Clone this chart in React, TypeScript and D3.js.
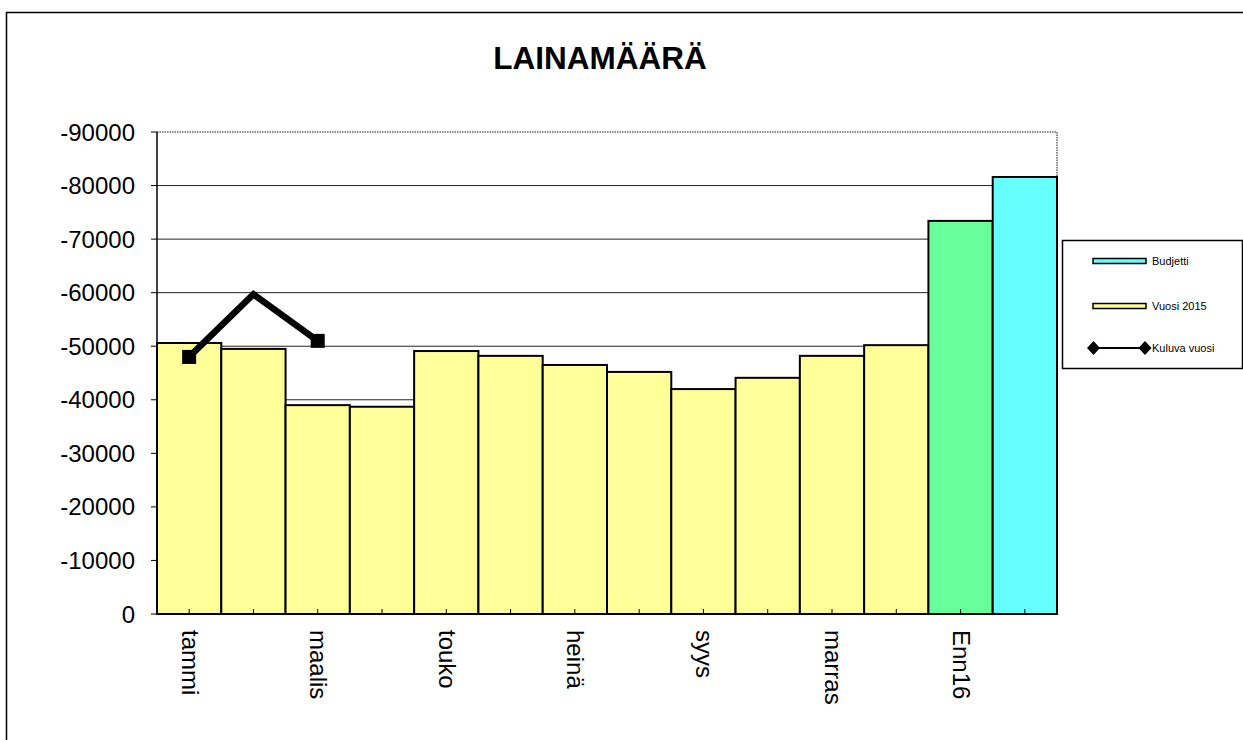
import React from 'react';
import * as d3 from 'd3';

// kuukaudet + ennuste + budjetti
const categories = ['tammi', 'helmi', 'maalis', 'huhti', 'touko', 'kesä', 'heinä', 'elo', 'syys', 'loka', 'marras', 'joulu', 'Enn16', 'Bud16'];
const vuosi2015 = [-50600, -49500, -39000, -38700, -49100, -48200, -46500, -45200, -42000, -44100, -48200, -50200];
const ennuste = [-73400];
const budjetti = [-81600];
const kuluvaVuosi = [-48000, -59700, -51000];
const yTicks = [0, -10000, -20000, -30000, -40000, -50000, -60000, -70000, -80000, -90000];

const W = 1243;
const H = 740;
const FONT = 'Arial, "Liberation Sans", sans-serif';

const App = () => {
  const x = d3.scaleBand<string>().domain(categories).range([157, 1057]).padding(0);
  const y = d3.scaleLinear().domain([0, -90000]).range([614, 132]);

  const bars = [
    ...vuosi2015.map((v, i) => ({ cat: categories[i], value: v, fill: '#FFFF99' })),
    ...ennuste.map((v, i) => ({ cat: categories[12 + i], value: v, fill: '#66FF99' })),
    ...budjetti.map((v, i) => ({ cat: categories[13 + i], value: v, fill: '#66FFFF' })),
  ];

  const cx = (c: string) => (x(c) ?? 0) + x.bandwidth() / 2;

  const linePts = kuluvaVuosi.map((v, i) => ({ cat: categories[i], value: v }));
  const line = d3
    .line<{ cat: string; value: number }>()
    .x(d => cx(d.cat))
    .y(d => y(d.value));
  const markerPts = [linePts[0], linePts[linePts.length - 1]];

  const [x0, x1] = x.range();

  return (
    <div style={{ position: 'absolute', left: 0, top: 0 }}>
      <svg width={W} height={H} style={{ display: 'block', background: '#fff' }} fontFamily={FONT}>
        {/* chart frame */}
        <rect x={6.5} y={12.5} width={1400} height={900} fill="none" stroke="#000" strokeWidth={1.5} />

        <text x={600} y={69} textAnchor="middle" fontSize={31.5} fontWeight="bold">LAINAMÄÄRÄ</text>

        {/* gridlines */}
        {yTicks.slice(1, -1).map(t => (
          <line key={t} x1={x0} x2={x1} y1={y(t)} y2={y(t)} stroke="#222" strokeWidth={1} />
        ))}
        {/* plot area border top/right */}
        <path
          d={`M${x0},${y(-90000)}H${x1}V${y(0)}`}
          fill="none"
          stroke="#8a8a8a"
          strokeWidth={2}
          strokeDasharray="1.5,1"
        />

        {/* bars */}
        {bars.map(b => (
          <rect
            key={b.cat}
            x={x(b.cat)}
            y={y(b.value)}
            width={x.bandwidth()}
            height={y(0) - y(b.value)}
            fill={b.fill}
            stroke="#000"
            strokeWidth={2}
          />
        ))}

        {/* y axis */}
        <line x1={x0} x2={x0} y1={y(-90000)} y2={y(0)} stroke="#000" strokeWidth={1.5} />
        {yTicks.map(t => (
          <g key={t}>
            <line x1={x0 - 6} x2={x0} y1={y(t)} y2={y(t)} stroke="#000" strokeWidth={1} />
            <text x={135} y={y(t)} textAnchor="end" dominantBaseline="central" fontSize={24}>
              {String(t)}
            </text>
          </g>
        ))}

        {/* x axis */}
        <line x1={x0} x2={x1} y1={y(0)} y2={y(0)} stroke="#000" strokeWidth={2} />
        {categories.map((c, i) => (
          <g key={c}>
            <line x1={cx(c)} x2={cx(c)} y1={y(0)} y2={y(0) - 5} stroke="#000" strokeWidth={1} />
            {i % 2 === 0 && (
              <text
                transform={`translate(${cx(c) + 1},630) rotate(90)`}
                dominantBaseline="central"
                fontSize={24}
              >
                {c}
              </text>
            )}
          </g>
        ))}

        {/* Kuluva vuosi */}
        <path d={line(linePts) ?? ''} fill="none" stroke="#000" strokeWidth={6.5} strokeLinejoin="miter" />
        {markerPts.map(p => (
          <rect key={p.cat} x={cx(p.cat) - 7} y={y(p.value) - 7} width={14} height={14} fill="#000" />
        ))}

        {/* legend */}
        <rect x={1062.5} y={240.5} width={180} height={128} fill="#fff" stroke="#000" strokeWidth={1.5} />
        <rect x={1093} y={258.5} width={53} height={5} fill="#66FFFF" stroke="#000" strokeWidth={1.5} />
        <text x={1152} y={261} dominantBaseline="central" fontSize={11}>Budjetti</text>
        <rect x={1093} y={303.5} width={53} height={5} fill="#FFFF99" stroke="#000" strokeWidth={1.5} />
        <text x={1152} y={306} dominantBaseline="central" fontSize={11}>Vuosi 2015</text>
        <line x1={1093} x2={1145} y1={348} y2={348} stroke="#000" strokeWidth={2} />
        {[1093.5, 1145].map(px => (
          <path key={px} d={`M${px},${341}L${px + 6.5},348L${px},${355}L${px - 6.5},348Z`} fill="#000" />
        ))}
        <text x={1152} y={348} dominantBaseline="central" fontSize={11}>Kuluva vuosi</text>
      </svg>
    </div>
  );
};

export default App;
